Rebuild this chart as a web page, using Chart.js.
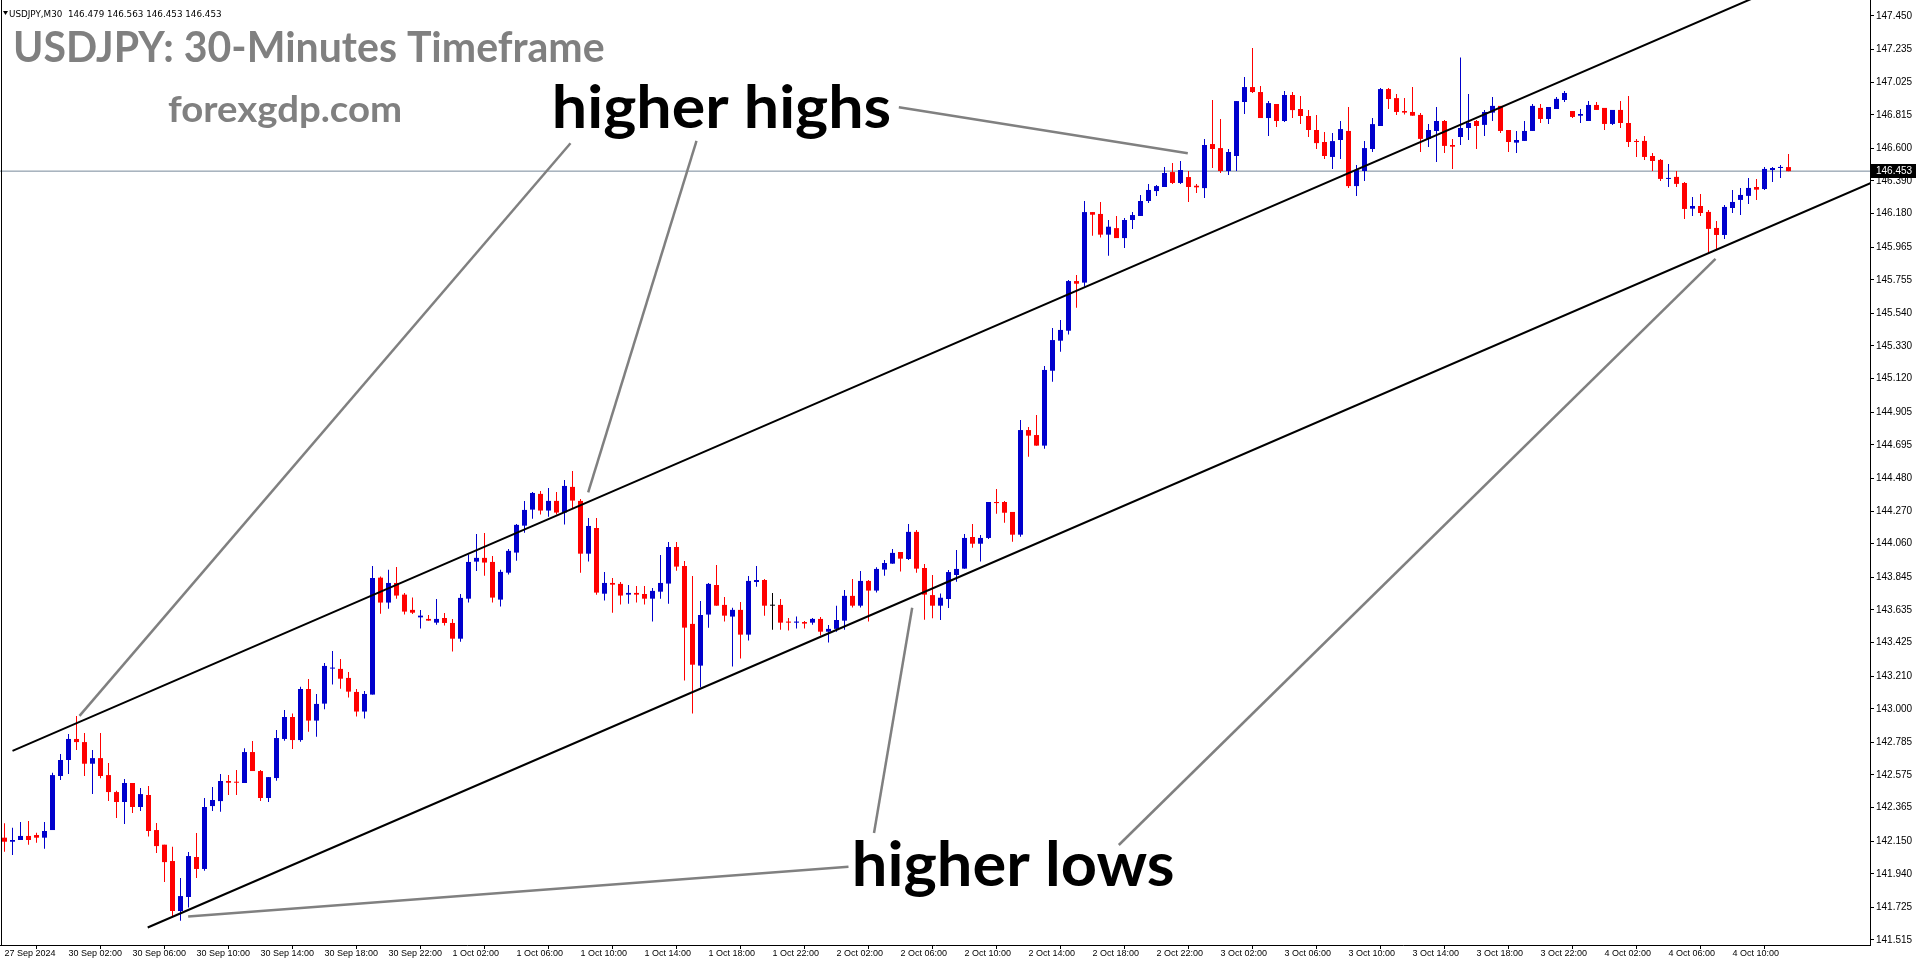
<!DOCTYPE html>
<html><head><meta charset="utf-8">
<script src="https://cdn.jsdelivr.net/npm/chart.js@4.4.1/dist/chart.umd.min.js"></script>
<style>html,body{margin:0;padding:0;background:#fff;overflow:hidden}canvas{display:block}</style>
</head><body><canvas id="c" width="1916" height="964"></canvas>
<script>
// ---------- DATA ----------
const timeTickIndex = [0,8,16,24,32,40,48,56,64,72,80,88,96,104,112,120,128,136,144,152,160,168,176,184,192,200,208,216];
const timeTickLabels = ['27 Sep 2024','30 Sep 02:00','30 Sep 06:00','30 Sep 10:00','30 Sep 14:00','30 Sep 18:00','30 Sep 22:00',
  '1 Oct 02:00','1 Oct 06:00','1 Oct 10:00','1 Oct 14:00','1 Oct 18:00','1 Oct 22:00',
  '2 Oct 02:00','2 Oct 06:00','2 Oct 10:00','2 Oct 14:00','2 Oct 18:00','2 Oct 22:00',
  '3 Oct 02:00','3 Oct 06:00','3 Oct 10:00','3 Oct 14:00','3 Oct 18:00','3 Oct 22:00',
  '4 Oct 02:00','4 Oct 06:00','4 Oct 10:00'];
const priceTicks = [147.450,147.235,147.025,146.815,146.600,146.390,146.180,145.965,145.755,145.540,145.330,145.120,144.905,144.695,144.480,144.270,144.060,143.845,143.635,143.425,143.210,143.000,142.785,142.575,142.365,142.150,141.940,141.725,141.515];

const opens = [142.172,142.146,142.157,142.183,142.189,142.172,142.221,142.568,142.671,142.806,142.786,142.647,142.683,142.574,142.465,142.401,142.523,142.369,142.446,142.221,
142.127,142.022,141.701,141.791,142.048,141.971,142.375,142.407,142.536,142.531,142.523,142.722,142.600,142.427,142.555,142.806,142.947,142.799,143.127,142.924,
143.033,143.258,143.256,143.198,143.108,142.982,143.091,143.842,143.682,143.808,143.733,143.635,143.587,143.577,143.553,143.583,143.551,143.450,143.707,143.945,
143.969,143.943,143.701,143.874,144.003,144.176,144.279,144.380,144.273,144.335,144.260,144.425,144.335,143.996,144.161,143.739,143.808,143.802,143.733,143.744,
143.737,143.707,143.752,143.804,144.039,143.917,143.545,143.277,143.605,143.795,143.667,143.592,143.635,143.476,143.814,143.827,143.662,143.667,143.560,143.553,
143.557,143.553,143.577,143.495,143.513,143.566,143.725,143.662,143.821,143.759,143.894,143.932,144.007,143.962,144.136,143.904,143.730,143.662,143.705,143.859,
143.900,144.103,144.060,144.097,144.328,144.328,144.264,144.118,144.790,144.758,144.690,145.171,145.364,145.428,145.747,145.737,146.190,146.178,146.045,146.087,
146.023,146.139,146.165,146.261,146.325,146.351,146.447,146.377,146.415,146.359,146.344,146.627,146.601,146.454,146.550,146.897,146.993,146.961,146.794,146.884,
146.775,146.942,146.852,146.807,146.717,146.640,146.544,146.653,146.711,146.357,146.454,146.595,146.743,146.980,146.922,146.839,146.833,146.814,146.660,146.711,
146.775,146.621,146.672,146.730,146.775,146.750,146.829,146.872,146.717,146.636,146.647,146.711,146.859,146.788,146.852,146.910,146.839,146.809,146.775,146.878,
146.859,146.756,146.846,146.762,146.647,146.647,146.550,146.525,146.403,146.416,146.377,146.212,146.229,146.191,146.088,146.043,146.216,146.268,146.294,146.351,
146.338,146.460,146.473,146.479];
const highs = [142.264,142.236,142.272,142.279,142.204,142.272,142.589,142.709,142.838,142.953,142.844,142.735,142.844,142.651,142.474,142.549,142.523,142.491,142.504,142.266,
142.127,142.114,141.913,142.080,142.202,142.427,142.497,142.581,142.574,142.606,142.746,142.793,142.606,142.561,142.863,142.992,142.970,143.142,143.191,143.095,
143.294,143.371,143.320,143.236,143.127,143.114,143.917,143.849,143.892,143.911,143.744,143.714,143.635,143.602,143.705,143.615,143.577,143.737,143.990,144.123,
144.129,143.981,143.892,144.026,144.187,144.335,144.392,144.399,144.418,144.392,144.470,144.527,144.348,144.225,144.225,143.879,143.840,143.814,143.795,143.789,
143.789,143.776,143.988,144.071,144.071,143.949,143.853,143.692,143.808,143.924,143.718,143.648,143.686,143.853,143.917,143.834,143.744,143.705,143.583,143.592,
143.564,143.583,143.590,143.538,143.662,143.763,143.834,143.885,143.827,143.909,143.956,144.026,144.007,144.187,144.148,143.930,143.859,143.741,143.891,144.020,
144.122,144.186,144.116,144.328,144.411,144.334,144.264,144.854,144.810,144.887,145.201,145.445,145.497,145.754,145.786,146.261,146.190,146.255,146.139,146.165,
146.152,146.190,146.299,146.370,146.364,146.479,146.505,146.518,146.454,146.370,146.659,146.910,146.788,146.595,146.903,147.057,147.244,147.000,146.903,146.884,
146.967,146.961,146.935,146.845,146.813,146.704,146.698,146.775,146.865,146.492,146.646,146.794,146.987,146.987,146.948,146.923,146.994,146.827,146.756,146.865,
146.782,146.660,147.183,146.949,146.782,146.846,146.929,146.872,146.717,146.711,146.775,146.884,146.884,146.865,146.929,146.968,146.839,146.852,146.904,146.897,
146.859,146.846,146.904,146.936,146.660,146.679,146.570,146.531,146.499,146.454,146.383,146.287,146.306,146.204,146.133,146.236,146.332,146.345,146.409,146.403,
146.480,146.480,146.493,146.563];
const lows = [142.082,142.060,142.157,142.127,142.140,142.101,142.221,142.542,142.581,142.735,142.568,142.452,142.553,142.407,142.298,142.260,142.330,142.343,142.180,142.073,
141.887,141.669,141.639,141.724,141.913,141.960,142.343,142.339,142.446,142.446,142.523,142.600,142.407,142.401,142.538,142.795,142.741,142.788,142.853,142.821,
142.997,143.155,143.129,143.072,142.950,142.937,143.091,143.611,143.643,143.707,143.605,143.609,143.515,143.566,143.540,143.534,143.367,143.431,143.682,143.885,
143.855,143.682,143.656,143.862,143.951,144.131,144.221,144.247,144.234,144.247,144.183,144.285,143.874,143.945,143.733,143.695,143.617,143.669,143.675,143.682,
143.669,143.560,143.707,143.675,143.887,143.181,142.969,143.136,143.521,143.662,143.560,143.271,143.322,143.438,143.784,143.598,143.508,143.508,143.502,143.515,
143.515,143.540,143.470,143.425,143.495,143.508,143.650,143.650,143.560,143.746,143.855,143.932,143.881,143.956,143.874,143.572,143.581,143.570,143.647,143.816,
143.900,144.034,143.945,144.090,144.253,144.195,144.073,144.105,144.619,144.690,144.670,145.101,145.293,145.403,145.576,145.711,146.038,146.026,145.910,146.023,
145.959,146.081,146.165,146.248,146.293,146.351,146.370,146.370,146.254,146.312,146.280,146.473,146.441,146.428,146.454,146.820,146.955,146.794,146.678,146.736,
146.768,146.794,146.755,146.672,146.595,146.531,146.466,146.531,146.344,146.293,146.389,146.576,146.743,146.852,146.813,146.816,146.809,146.576,146.608,146.512,
146.570,146.467,146.621,146.653,146.595,146.679,146.775,146.698,146.576,146.570,146.647,146.711,146.762,146.756,146.852,146.897,146.794,146.762,146.775,146.846,
146.717,146.750,146.730,146.608,146.544,146.525,146.454,146.390,146.351,146.351,146.146,146.165,146.165,145.927,145.953,146.017,146.184,146.171,146.242,146.268,
146.332,146.383,146.409,146.453];
const closes = [142.146,142.157,142.183,142.157,142.172,142.215,142.574,142.671,142.806,142.786,142.647,142.683,142.568,142.465,142.401,142.523,142.369,142.452,142.215,142.118,
142.015,141.701,141.797,142.054,141.971,142.369,142.414,142.536,142.525,142.525,142.722,142.600,142.427,142.561,142.812,142.947,142.799,143.127,142.924,143.031,
143.275,143.262,143.193,143.110,142.982,143.095,143.840,143.682,143.808,143.727,143.624,143.617,143.598,143.566,143.577,143.551,143.450,143.712,143.943,143.969,
143.939,143.714,143.879,144.014,144.181,144.277,144.386,144.273,144.335,144.260,144.431,144.337,143.996,144.174,143.746,143.808,143.797,143.727,143.744,143.733,
143.707,143.757,143.808,144.039,143.913,143.521,143.283,143.602,143.802,143.662,143.598,143.635,143.476,143.821,143.827,143.662,143.662,143.553,143.553,143.560,
143.547,143.577,143.495,143.513,143.570,143.725,143.662,143.821,143.759,143.898,143.936,144.001,143.964,144.136,143.900,143.733,143.662,143.713,143.878,143.898,
144.097,144.060,144.097,144.328,144.321,144.259,144.118,144.790,144.754,144.690,145.176,145.368,145.433,145.747,145.730,146.190,146.173,146.045,146.096,146.023,
146.139,146.171,146.261,146.332,146.357,146.441,146.377,146.460,146.351,146.349,146.621,146.595,146.454,146.576,146.903,146.993,146.961,146.794,146.890,146.775,
146.942,146.845,146.807,146.717,146.633,146.550,146.646,146.723,146.357,146.460,146.601,146.755,146.980,146.916,146.833,146.829,146.809,146.660,146.717,146.775,
146.615,146.610,146.730,146.762,146.743,146.833,146.872,146.711,146.640,146.653,146.711,146.872,146.788,146.865,146.917,146.955,146.801,146.820,146.878,146.846,
146.756,146.846,146.762,146.640,146.640,146.544,146.518,146.403,146.409,146.371,146.210,146.229,146.184,146.082,146.043,146.223,146.255,146.300,146.345,146.334,
146.467,146.473,146.480,146.453];

const bidPrice = 146.453;
const headerText = 'USDJPY,M30  146.479 146.563 146.453 146.453';
const titleText = 'USDJPY: 30-Minutes Timeframe';
const siteText = 'forexgdp.com';
const highsLabel = 'higher highs';
const lowsLabel = 'higher lows';

// channel lines and annotation pointers: [barIndex, price]
const upperChannel = [[1.0, 142.729], [240, 148.040]];
const lowerChannel = [[17.9, 141.595], [240, 146.526]];
const pointerHH1 = [[70.75, 146.632], [9.375, 142.954]];
const pointerHH2 = [[86.5, 146.647], [72.96, 144.390]];
const pointerHH3 = [[111.79, 146.863], [147.91, 146.568]];
const pointerHL1 = [[108.69, 142.202], [113.46, 143.649]];
const pointerHL2 = [[105.5, 141.986], [22.96, 141.666]];
const pointerHL3 = [[139.29, 142.125], [213.875, 145.889]];
const highsLabelAnchor = [68.81, 146.728];
const lowsLabelAnchor = [106.31, 141.864];

// ---------- STYLE ----------
const BLUE = '#0000CC', RED = '#FF0000', DOJI = '#000000';
const X_MIN = -0.5625, X_MAX = 233.1875;
const Y_MAX = 147.5521, Y_MIN = 141.4827;

const candleColors = opens.map((o, i) => closes[i] > o ? BLUE : (closes[i] < o ? RED : DOJI));
const wickData = opens.map((o, i) => ({x: i, y: [lows[i], highs[i]]}));
const bodyData = opens.map((o, i) => ({x: i, y: [o, closes[i]]}));
const toXY = seg => seg.map(p => ({x: p[0], y: p[1]}));

function lineDs(seg, color, width, order) {
  return {type: 'line', data: toXY(seg), borderColor: color, borderWidth: width, pointRadius: 0,
    fill: false, tension: 0, order: order, borderCapStyle: 'butt'};
}

function drawFitted(ctx, text, o) {
  ctx.save();
  ctx.textAlign = 'left';
  ctx.textBaseline = 'alphabetic';
  ctx.font = `${o.weight} 100px ${o.family}`;
  const ref = ctx.measureText(o.refChar);
  const size = 100 * o.refHeight / ref.actualBoundingBoxAscent;
  ctx.font = `${o.weight} ${size}px ${o.family}`;
  const m = ctx.measureText(text);
  const ink = m.actualBoundingBoxLeft + m.actualBoundingBoxRight;
  const sx = o.width / ink;
  ctx.translate(o.left + m.actualBoundingBoxLeft * sx, o.baseline);
  ctx.scale(sx, 1);
  ctx.fillStyle = o.color;
  ctx.fillText(text, 0, 0);
  ctx.restore();
}

const overlay = {
  id: 'overlay',
  afterDraw(chart) {
    const {ctx, chartArea: a, scales: {x, y}} = chart;
    ctx.save();
    // left frame
    ctx.fillStyle = '#000';
    ctx.fillRect(a.left + 1, a.top, 1, a.bottom - a.top);
    // bid price label
    const py = Math.round(y.getPixelForValue(bidPrice));
    ctx.fillStyle = '#000';
    ctx.fillRect(a.right + 1, py - 7, chart.width - a.right - 1, 14);
    ctx.fillStyle = '#fff';
    ctx.font = '10px "Liberation Sans"';
    ctx.textBaseline = 'middle';
    ctx.textAlign = 'left';
    ctx.fillText(bidPrice.toFixed(3), a.right + 6, py + 0.5);
    // header
    ctx.fillStyle = '#000';
    ctx.beginPath(); ctx.moveTo(3, 11); ctx.lineTo(8, 11); ctx.lineTo(5.5, 15); ctx.closePath(); ctx.fill();
    drawFitted(ctx, headerText, {weight: 'normal', family: '"DejaVu Sans"', refChar: 'U', refHeight: 6.5, left: 9, baseline: 16.5, width: 212, color: '#000'});
    drawFitted(ctx, titleText, {weight: 'bold', family: 'Lato', refChar: 'U', refHeight: 30.5, left: 16, baseline: 62, width: 588, color: '#808080'});
    drawFitted(ctx, siteText, {weight: 'bold', family: 'Lato', refChar: 'f', refHeight: 26.5, left: 168, baseline: 121.5, width: 232, color: '#808080'});
    drawFitted(ctx, highsLabel, {weight: 'bold', family: 'Lato', refChar: 'h', refHeight: 44, left: x.getPixelForValue(highsLabelAnchor[0]), baseline: y.getPixelForValue(highsLabelAnchor[1]), width: 335, color: '#000'});
    drawFitted(ctx, lowsLabel, {weight: 'bold', family: 'Lato', refChar: 'h', refHeight: 44.7, left: x.getPixelForValue(lowsLabelAnchor[0]), baseline: y.getPixelForValue(lowsLabelAnchor[1]), width: 318, color: '#000'});
    ctx.restore();
  }
};

new Chart(document.getElementById('c'), {
  type: 'bar',
  data: {
    datasets: [
      lineDs(upperChannel, '#000', 2, 0),
      lineDs(lowerChannel, '#000', 2, 0),
      lineDs(pointerHH1, '#808080', 2.5, 0),
      lineDs(pointerHH2, '#808080', 2.5, 0),
      lineDs(pointerHH3, '#808080', 2.5, 0),
      lineDs(pointerHL1, '#808080', 2.5, 0),
      lineDs(pointerHL2, '#808080', 2.5, 0),
      lineDs(pointerHL3, '#808080', 2.5, 0),
      {type: 'bar', data: bodyData, backgroundColor: candleColors, barThickness: 5, minBarLength: 1,
        grouped: false, inflateAmount: 0, borderWidth: 0, order: 2},
      {type: 'bar', data: wickData, backgroundColor: candleColors, barThickness: 1, minBarLength: 1,
        grouped: false, inflateAmount: 0, borderWidth: 0, order: 3},
      lineDs([[-5, bidPrice], [260, bidPrice]], '#778899', 1, 4)
    ]
  },
  options: {
    responsive: false, animation: false, devicePixelRatio: 1,
    layout: {padding: 0},
    plugins: {legend: {display: false}, tooltip: {enabled: false}},
    scales: {
      x: {
        type: 'linear', min: X_MIN, max: X_MAX, offset: false,
        grid: {drawOnChartArea: false, drawTicks: true, tickLength: 4, color: '#000', lineWidth: 1},
        border: {display: true, color: '#000', width: 1},
        ticks: {autoSkip: false, maxRotation: 0, minRotation: 0, align: 'start', padding: -1,
          color: '#000', font: {family: '"Liberation Sans"', size: 9},
          callback: (v, i) => timeTickLabels[i]},
        afterBuildTicks: s => { s.ticks = timeTickIndex.map(v => ({value: v})); },
        afterFit: s => { s.height = 19; s.paddingLeft = 0; s.paddingRight = 0; }
      },
      y: {
        type: 'linear', position: 'right', min: Y_MIN, max: Y_MAX,
        grid: {drawOnChartArea: false, drawTicks: true, tickLength: 4, color: '#000', lineWidth: 1},
        border: {display: true, color: '#000', width: 1},
        ticks: {padding: 2, color: '#000', font: {family: '"Liberation Sans"', size: 10},
          callback: v => Number(v).toFixed(3)},
        afterBuildTicks: s => { s.ticks = priceTicks.map(v => ({value: v})); },
        afterFit: s => { s.width = 46; s.paddingTop = 0; s.paddingBottom = 0; }
      }
    }
  },
  plugins: [overlay]
});
</script>
</body></html>
